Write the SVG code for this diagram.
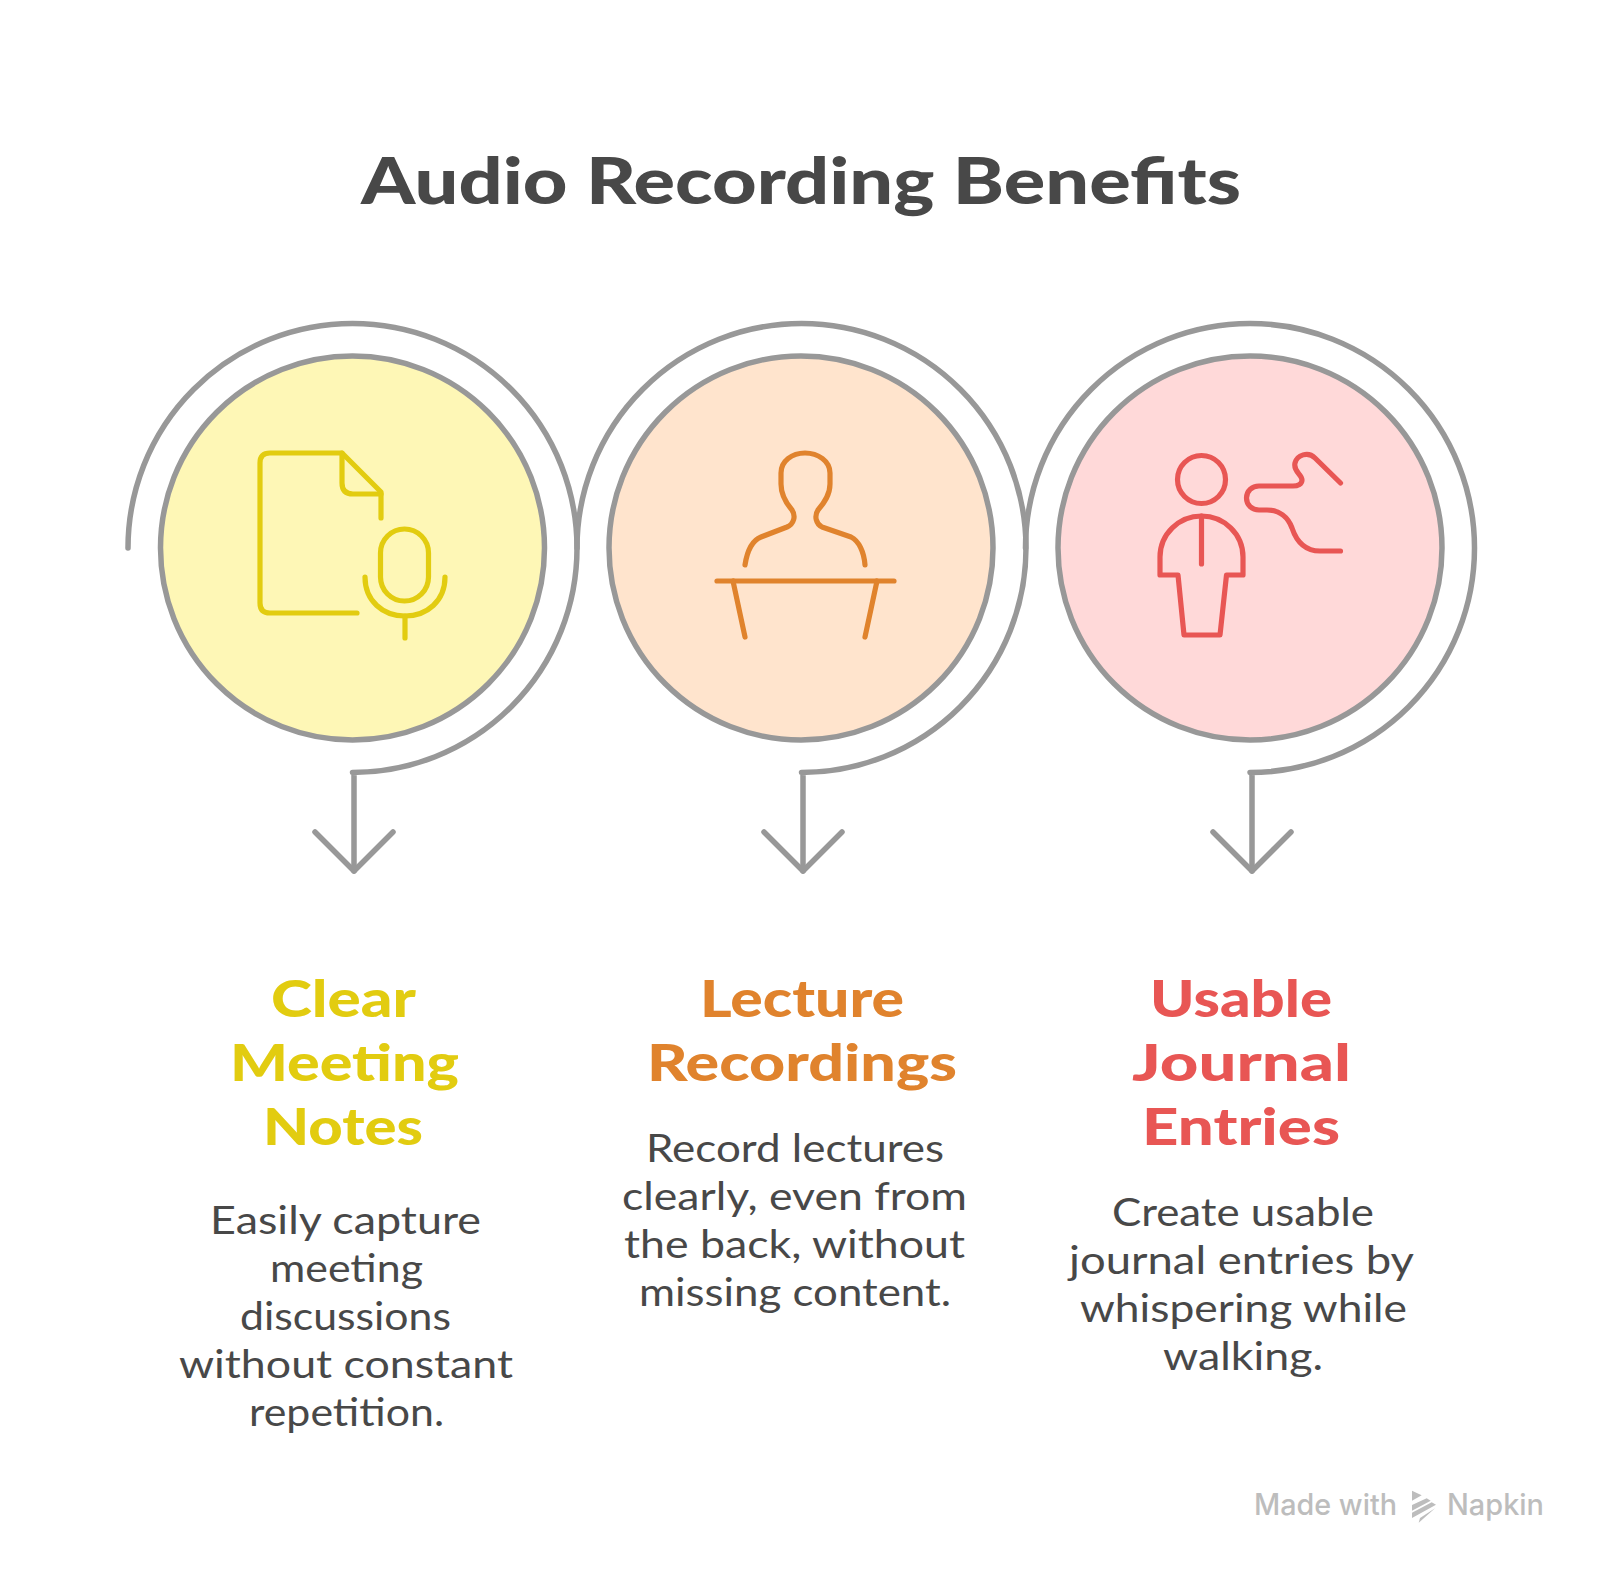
<svg xmlns="http://www.w3.org/2000/svg" width="1600" height="1571" viewBox="0 0 1600 1571">
<style>
text{font-family:"Lato","Open Sans","Liberation Sans",sans-serif}
.title{font-size:64px;font-weight:900;fill:#484848}
.head{font-size:52px;font-weight:900}
.body{font-size:39px;font-weight:400;fill:#484848}
.conn{fill:none;stroke:#989898;stroke-width:5.500;stroke-linecap:round;stroke-linejoin:round}
.disc{stroke:#989898;stroke-width:5.500}
.icon{fill:none;stroke-width:5.200;stroke-linecap:round;stroke-linejoin:round}
.y .disc{fill:#FEF7B6}.y .icon{stroke:#E2CC10}.y .head{fill:#E2CC10}
.o .disc{fill:#FFE4CD}.o .icon{stroke:#E0832D}.o .head{fill:#E0832D}
.r .disc{fill:#FFD9D9}.r .icon{stroke:#E85654}.r .head{fill:#E85654}
.brand{font-family:"Inter","Roboto",sans-serif;font-size:29.500px;font-weight:500;fill:#BDBDBD}
</style>
<defs>
<marker id="arrow" markerUnits="userSpaceOnUse" markerWidth="90" markerHeight="90" refX="45" refY="45" orient="auto" overflow="visible">
<path d="M6 6L45 45L6 84" fill="none" stroke="#989898" stroke-width="5.500" stroke-linecap="round" stroke-linejoin="round"/>
</marker>
</defs>
<rect width="1600" height="1571" fill="#FFFFFF"/>
<text id="title" class="title" x="361" y="204" textLength="880" lengthAdjust="spacingAndGlyphs">Audio Recording Benefits</text>
<g id="connectors">
<path class="conn" marker-end="url(#arrow)" d="M128 548A224.500 224.500 0 1 1 352.500 772.500L354 773V871"/>
<path class="conn" marker-end="url(#arrow)" d="M577 548A224.500 224.500 0 1 1 801.500 772.500L803 773V871"/>
<path class="conn" marker-end="url(#arrow)" d="M1025.500 548A224.500 224.500 0 1 1 1250 772.500L1252 773V871"/>
</g>
<g id="node-meeting" class="y">
<circle class="disc" cx="352.500" cy="548" r="192"/>
<g class="icon">
<path d="M357 613H270Q260 613 260 603V463Q260 453 270 453H342L381 492V518"/>
<path d="M342 453V483Q342 494 353 494H381"/>
<rect x="380.500" y="529" width="48" height="72" rx="24"/>
<path d="M365 577C365 601 383 616 405 616C427 616 445 601 445 577"/>
<path d="M405 616V638"/>
</g>
<text class="head" x="271" y="1017" textLength="145" lengthAdjust="spacingAndGlyphs">Clear</text>
<text class="head" x="230" y="1081" textLength="229" lengthAdjust="spacingAndGlyphs">Meeting</text>
<text class="head" x="263" y="1145" textLength="160" lengthAdjust="spacingAndGlyphs">Notes</text>
<text class="body" x="210" y="1234" textLength="271" lengthAdjust="spacingAndGlyphs">Easily capture</text>
<text class="body" x="270" y="1282" textLength="153" lengthAdjust="spacingAndGlyphs">meeting</text>
<text class="body" x="240" y="1330" textLength="211" lengthAdjust="spacingAndGlyphs">discussions</text>
<text class="body" x="179" y="1378" textLength="334" lengthAdjust="spacingAndGlyphs">without constant</text>
<text class="body" x="249" y="1426" textLength="195" lengthAdjust="spacingAndGlyphs">repetition.</text>
</g>
<g id="node-lecture" class="o">
<circle class="disc" cx="801" cy="548" r="192"/>
<g class="icon">
<path d="M745 565C747 552 751 541 761 537L787 527C794 524 796 516 792 510C786 503 781 495 781 484V473C781 461 792 453 805 453C818 453 830 461 830 473V484C830 495 824 503 818 510C814 516 816 524 822 527L851 537C859 541 864 552 865 565"/>
<path d="M717 581H894"/>
<path d="M733 581L745 637"/>
<path d="M877 581L865 637"/>
</g>
<text class="head" x="700" y="1017" textLength="204" lengthAdjust="spacingAndGlyphs">Lecture</text>
<text class="head" x="647" y="1081" textLength="310" lengthAdjust="spacingAndGlyphs">Recordings</text>
<text class="body" x="646" y="1162" textLength="298" lengthAdjust="spacingAndGlyphs">Record lectures</text>
<text class="body" x="622" y="1210" textLength="345" lengthAdjust="spacingAndGlyphs">clearly, even from</text>
<text class="body" x="624" y="1258" textLength="341" lengthAdjust="spacingAndGlyphs">the back, without</text>
<text class="body" x="639" y="1306" textLength="312" lengthAdjust="spacingAndGlyphs">missing content.</text>
</g>
<g id="node-journal" class="r">
<circle class="disc" cx="1250" cy="548" r="192"/>
<g class="icon">
<circle cx="1201.500" cy="479.500" r="24"/>
<path d="M1160 575V557C1160 534 1179 516 1201.500 516C1224 516 1243 534 1243 557V575H1226.500L1220 635H1184L1178 575Z"/>
<path d="M1201.500 516V564"/>
<path d="M1340.500 483L1315 458C1308 451 1297 455 1295 463C1293 472 1302 474 1302 480C1302 484 1298 486 1293 486H1259C1252 486 1246.500 491 1246.500 498C1246.500 505 1252 510 1259 510H1267C1279 510 1288 517 1292 528C1297 543 1306 551 1320 551H1340.500"/>
</g>
<text class="head" x="1150" y="1017" textLength="182" lengthAdjust="spacingAndGlyphs">Usable</text>
<text class="head" x="1132" y="1081" textLength="219" lengthAdjust="spacingAndGlyphs">Journal</text>
<text class="head" x="1142" y="1145" textLength="198" lengthAdjust="spacingAndGlyphs">Entries</text>
<text class="body" x="1112" y="1226" textLength="262" lengthAdjust="spacingAndGlyphs">Create usable</text>
<text class="body" x="1069" y="1274" textLength="345" lengthAdjust="spacingAndGlyphs">journal entries by</text>
<text class="body" x="1080" y="1322" textLength="327" lengthAdjust="spacingAndGlyphs">whispering while</text>
<text class="body" x="1163" y="1370" textLength="160" lengthAdjust="spacingAndGlyphs">walking.</text>
</g>
<g id="watermark">
<text class="brand" x="1254" y="1515" textLength="143" lengthAdjust="spacingAndGlyphs">Made with</text>
<g fill="#BDBDBD">
<polygon points="1412,1490.700 1421.700,1495.300 1412,1500.700"/>
<polygon points="1412,1505 1426.700,1498.300 1430.700,1500.700 1412,1510.700"/>
<polygon points="1412,1512.700 1431.700,1502.300 1436,1504.700 1412,1518"/>
<polygon points="1418.700,1522.700 1435,1508.300 1420,1518"/>
</g>
<text class="brand" x="1447" y="1515" textLength="97" lengthAdjust="spacingAndGlyphs">Napkin</text>
</g>
</svg>
